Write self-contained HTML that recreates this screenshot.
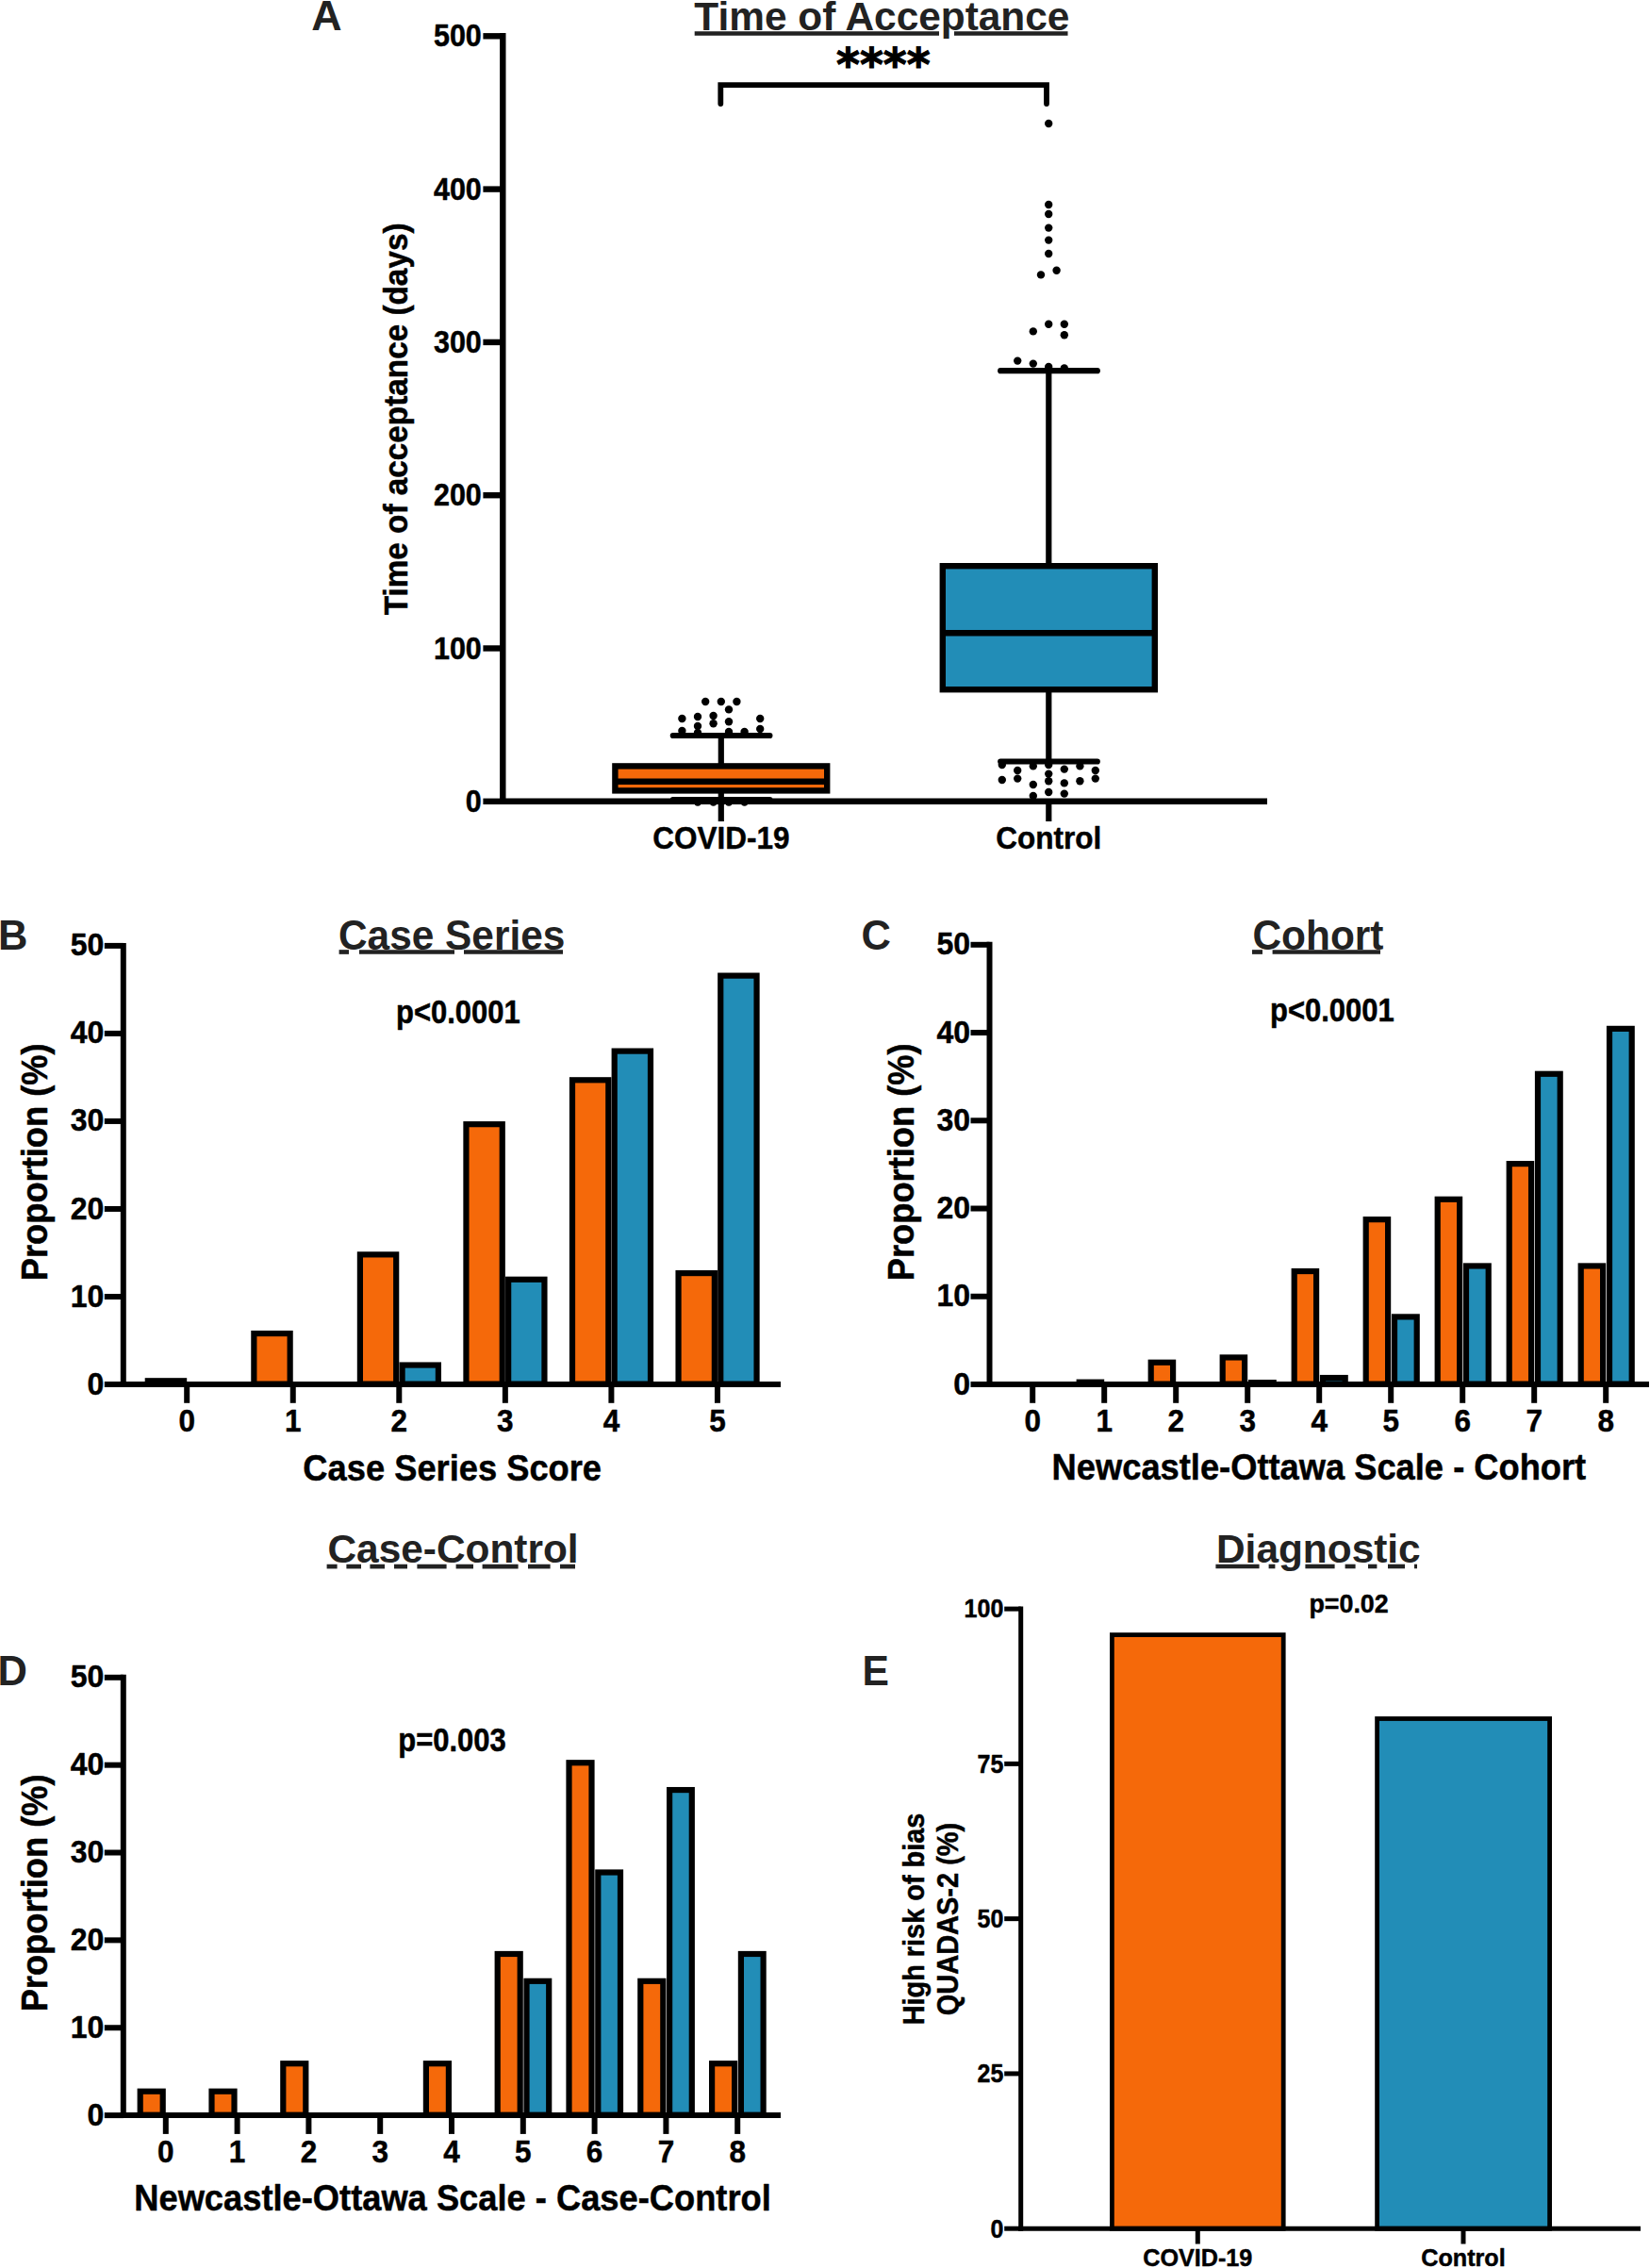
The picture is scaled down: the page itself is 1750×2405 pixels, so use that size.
<!DOCTYPE html>
<html lang="en">
<head>
<meta charset="utf-8">
<title>Figure</title>
<style>
html,body{margin:0;padding:0;background:#fff;}
body{width:1750px;height:2405px;overflow:hidden;}
svg{display:block;}
svg text{font-family:"Liberation Sans",Arial,Helvetica,sans-serif;font-weight:bold;}
</style>
</head>
<body>
<svg width="1750" height="2405" viewBox="0 0 1750 2405">
<rect x="0" y="0" width="1750" height="2405" fill="#ffffff"/>
<g id="panelA">
<text transform="translate(330.3,32.3) scale(1,1.0)" font-size="44.8" text-anchor="start" fill="#222222" >A</text>
<line x1="736.7" y1="35.5" x2="996" y2="35.5" stroke="#222222" stroke-width="4.3" stroke-linecap="butt"/>
<line x1="1012" y1="35.5" x2="1132.5" y2="35.5" stroke="#222222" stroke-width="4.3" stroke-linecap="butt"/>
<text transform="translate(736.3,32.3) scale(1,1.02)" font-size="42.4" text-anchor="start" fill="#222222" >Time of Acceptance</text>
<text x="936.8" y="85" font-size="47.6" text-anchor="middle" style="font-family:'DejaVu Sans',sans-serif" stroke="#000" stroke-width="1.1">****</text>
<path d="M764.3 110 V90.1 H1110 V110" fill="none" stroke="#000" stroke-width="5.8" stroke-linecap="round" stroke-linejoin="miter"/>
<line x1="1112.3" y1="393.2" x2="1112.3" y2="807.5" stroke="#000" stroke-width="6.2" stroke-linecap="butt"/>
<line x1="1061.2" y1="393.2" x2="1163.8" y2="393.2" stroke="#000" stroke-width="6.2" stroke-linecap="round"/>
<line x1="1061.2" y1="807.5" x2="1163.8" y2="807.5" stroke="#000" stroke-width="6.2" stroke-linecap="round"/>
<rect x="999.80" y="600.20" width="225.00" height="131.00" fill="#228db7" stroke="#000" stroke-width="6.4"/>
<line x1="999.8" y1="671.2" x2="1224.8" y2="671.2" stroke="#000" stroke-width="6.4" stroke-linecap="butt"/>
<line x1="764.8" y1="780" x2="764.8" y2="848" stroke="#000" stroke-width="6.2" stroke-linecap="butt"/>
<line x1="713.8" y1="780" x2="816.4" y2="780" stroke="#000" stroke-width="6.2" stroke-linecap="round"/>
<line x1="713.8" y1="848" x2="816.4" y2="848" stroke="#000" stroke-width="6.2" stroke-linecap="round"/>
<rect x="652.40" y="812.40" width="224.80" height="26.00" fill="#f5690a" stroke="#000" stroke-width="6.4"/>
<line x1="652.4" y1="828.8" x2="877.2" y2="828.8" stroke="#000" stroke-width="6.4" stroke-linecap="butt"/>
<circle cx="1112.2" cy="131" r="4.2"/>
<circle cx="1112.2" cy="217" r="4.2"/>
<circle cx="1112.2" cy="227" r="4.2"/>
<circle cx="1112.2" cy="241.6" r="4.2"/>
<circle cx="1112.2" cy="254.6" r="4.2"/>
<circle cx="1112.2" cy="269" r="4.2"/>
<circle cx="1120.6" cy="286.8" r="4.2"/>
<circle cx="1104" cy="291.4" r="4.2"/>
<circle cx="1112.2" cy="343.8" r="4.2"/>
<circle cx="1128.8" cy="343.8" r="4.2"/>
<circle cx="1095.8" cy="351.4" r="4.2"/>
<circle cx="1128.8" cy="355.2" r="4.2"/>
<circle cx="1079.2" cy="382.6" r="4.2"/>
<circle cx="1095.8" cy="385.6" r="4.2"/>
<circle cx="1112.2" cy="389" r="4.2"/>
<circle cx="1128.8" cy="390.4" r="4.2"/>
<circle cx="1062.8" cy="811" r="4.2"/>
<circle cx="1095.8" cy="812.4" r="4.2"/>
<circle cx="1112.2" cy="811" r="4.2"/>
<circle cx="1145.4" cy="812.4" r="4.2"/>
<circle cx="1079.2" cy="817" r="4.2"/>
<circle cx="1128.8" cy="815.6" r="4.2"/>
<circle cx="1161.8" cy="817" r="4.2"/>
<circle cx="1112.2" cy="820.6" r="4.2"/>
<circle cx="1062.8" cy="827" r="4.2"/>
<circle cx="1079.2" cy="825.6" r="4.2"/>
<circle cx="1161.8" cy="825.6" r="4.2"/>
<circle cx="1112.2" cy="828.2" r="4.2"/>
<circle cx="1145.4" cy="828.2" r="4.2"/>
<circle cx="1095.8" cy="832" r="4.2"/>
<circle cx="1128.8" cy="830.4" r="4.2"/>
<circle cx="1112.2" cy="840" r="4.2"/>
<circle cx="1128.8" cy="841.6" r="4.2"/>
<circle cx="1095.8" cy="844" r="4.2"/>
<circle cx="748.2" cy="744" r="4.2"/>
<circle cx="764.8" cy="744" r="4.2"/>
<circle cx="781.4" cy="744" r="4.2"/>
<circle cx="773" cy="752.4" r="4.2"/>
<circle cx="756.6" cy="759" r="4.2"/>
<circle cx="740" cy="760" r="4.2"/>
<circle cx="723.4" cy="762" r="4.2"/>
<circle cx="806.2" cy="762" r="4.2"/>
<circle cx="773" cy="765.2" r="4.2"/>
<circle cx="756.6" cy="767.2" r="4.2"/>
<circle cx="740" cy="770" r="4.2"/>
<circle cx="806.2" cy="773" r="4.2"/>
<circle cx="723.4" cy="775" r="4.2"/>
<circle cx="773" cy="776" r="4.2"/>
<circle cx="789.6" cy="776" r="4.2"/>
<circle cx="740" cy="777" r="4.2"/>
<circle cx="740" cy="850.5" r="4.2"/>
<circle cx="756.6" cy="850.5" r="4.2"/>
<circle cx="773" cy="850.5" r="4.2"/>
<circle cx="789.6" cy="850.5" r="4.2"/>
<line x1="533.3" y1="35" x2="533.3" y2="853" stroke="#000" stroke-width="6.4" stroke-linecap="butt"/>
<line x1="530.1" y1="849.8" x2="1344" y2="849.8" stroke="#000" stroke-width="6.4" stroke-linecap="butt"/>
<line x1="512.4" y1="849.8" x2="533.3" y2="849.8" stroke="#000" stroke-width="6.4" stroke-linecap="butt"/>
<text transform="translate(510.8,860.9) scale(1,1.085)" font-size="30.5" text-anchor="end" fill="#000" stroke="#000" stroke-width="0.45" stroke-linejoin="round" >0</text>
<line x1="512.4" y1="687.5" x2="533.3" y2="687.5" stroke="#000" stroke-width="6.4" stroke-linecap="butt"/>
<text transform="translate(510.8,698.6) scale(1,1.085)" font-size="30.5" text-anchor="end" fill="#000" stroke="#000" stroke-width="0.45" stroke-linejoin="round" >100</text>
<line x1="512.4" y1="525.1999999999999" x2="533.3" y2="525.1999999999999" stroke="#000" stroke-width="6.4" stroke-linecap="butt"/>
<text transform="translate(510.8,536.3) scale(1,1.085)" font-size="30.5" text-anchor="end" fill="#000" stroke="#000" stroke-width="0.45" stroke-linejoin="round" >200</text>
<line x1="512.4" y1="362.9" x2="533.3" y2="362.9" stroke="#000" stroke-width="6.4" stroke-linecap="butt"/>
<text transform="translate(510.8,374.0) scale(1,1.085)" font-size="30.5" text-anchor="end" fill="#000" stroke="#000" stroke-width="0.45" stroke-linejoin="round" >300</text>
<line x1="512.4" y1="200.5999999999999" x2="533.3" y2="200.5999999999999" stroke="#000" stroke-width="6.4" stroke-linecap="butt"/>
<text transform="translate(510.8,211.7) scale(1,1.085)" font-size="30.5" text-anchor="end" fill="#000" stroke="#000" stroke-width="0.45" stroke-linejoin="round" >400</text>
<line x1="512.4" y1="38.299999999999955" x2="533.3" y2="38.299999999999955" stroke="#000" stroke-width="6.4" stroke-linecap="butt"/>
<text transform="translate(510.8,49.4) scale(1,1.085)" font-size="30.5" text-anchor="end" fill="#000" stroke="#000" stroke-width="0.45" stroke-linejoin="round" >500</text>
<line x1="764.8" y1="849.8" x2="764.8" y2="871" stroke="#000" stroke-width="6.2" stroke-linecap="butt"/>
<text transform="translate(764.8,900.2) scale(1,1.035)" font-size="31.5" text-anchor="middle" fill="#000" stroke="#000" stroke-width="0.45" stroke-linejoin="round" >COVID-19</text>
<line x1="1112.3" y1="849.8" x2="1112.3" y2="871" stroke="#000" stroke-width="6.2" stroke-linecap="butt"/>
<text transform="translate(1112.3,900.2) scale(1,1.035)" font-size="31.5" text-anchor="middle" fill="#000" stroke="#000" stroke-width="0.45" stroke-linejoin="round" >Control</text>
<text transform="translate(432.0,444.4) rotate(-90) scale(1.0,1.045)" font-size="33.32" text-anchor="middle" fill="#000" stroke="#000" stroke-width="0.45" stroke-linejoin="round">Time of acceptance (days)</text>
</g>
<g id="panelB">
<text transform="translate(-2.0,1006.6) scale(1,1.0)" font-size="43.5" text-anchor="start" fill="#222222" >B</text>
<line x1="359.6" y1="1009.5" x2="370" y2="1009.5" stroke="#222222" stroke-width="4.7" stroke-linecap="butt"/>
<line x1="381" y1="1009.5" x2="482" y2="1009.5" stroke="#222222" stroke-width="4.7" stroke-linecap="butt"/>
<line x1="492" y1="1009.5" x2="597" y2="1009.5" stroke="#222222" stroke-width="4.7" stroke-linecap="butt"/>
<text transform="translate(359.0,1006.8) scale(1,1.065)" font-size="42.4" text-anchor="start" fill="#222222" >Case Series</text>
<text transform="translate(420.0,1084.6) scale(1,1.11)" font-size="31.0" text-anchor="start" fill="#000" stroke="#000" stroke-width="0.45" stroke-linejoin="round" >p&lt;0.0001</text>
<rect x="156.80" y="1464.28" width="38.30" height="3.32" fill="#f5690a" stroke="#000" stroke-width="6.2"/>
<rect x="269.35" y="1414.06" width="38.30" height="53.54" fill="#f5690a" stroke="#000" stroke-width="6.2"/>
<rect x="381.90" y="1330.36" width="38.30" height="137.24" fill="#f5690a" stroke="#000" stroke-width="6.2"/>
<rect x="426.60" y="1447.54" width="38.30" height="20.06" fill="#228db7" stroke="#000" stroke-width="6.2"/>
<rect x="494.45" y="1192.16" width="38.30" height="275.44" fill="#f5690a" stroke="#000" stroke-width="6.2"/>
<rect x="539.15" y="1356.77" width="38.30" height="110.83" fill="#228db7" stroke="#000" stroke-width="6.2"/>
<rect x="607.00" y="1145.29" width="38.30" height="322.31" fill="#f5690a" stroke="#000" stroke-width="6.2"/>
<rect x="651.70" y="1114.60" width="38.30" height="353.00" fill="#228db7" stroke="#000" stroke-width="6.2"/>
<rect x="719.55" y="1350.08" width="38.30" height="117.52" fill="#f5690a" stroke="#000" stroke-width="6.2"/>
<rect x="764.25" y="1034.62" width="38.30" height="432.98" fill="#228db7" stroke="#000" stroke-width="6.2"/>
<line x1="130.8" y1="999.9" x2="130.8" y2="1471.0" stroke="#000" stroke-width="6.0" stroke-linecap="butt"/>
<line x1="127.80000000000001" y1="1468.0" x2="828" y2="1468.0" stroke="#000" stroke-width="6.0" stroke-linecap="butt"/>
<line x1="110.80000000000001" y1="1468.0" x2="130.8" y2="1468.0" stroke="#000" stroke-width="6.0" stroke-linecap="butt"/>
<text transform="translate(110.4,1478.5) scale(1,1.05)" font-size="32" text-anchor="end" fill="#000" stroke="#000" stroke-width="0.45" stroke-linejoin="round" >0</text>
<line x1="110.80000000000001" y1="1374.98" x2="130.8" y2="1374.98" stroke="#000" stroke-width="6.0" stroke-linecap="butt"/>
<text transform="translate(110.4,1385.5) scale(1,1.05)" font-size="32" text-anchor="end" fill="#000" stroke="#000" stroke-width="0.45" stroke-linejoin="round" >10</text>
<line x1="110.80000000000001" y1="1281.96" x2="130.8" y2="1281.96" stroke="#000" stroke-width="6.0" stroke-linecap="butt"/>
<text transform="translate(110.4,1292.5) scale(1,1.05)" font-size="32" text-anchor="end" fill="#000" stroke="#000" stroke-width="0.45" stroke-linejoin="round" >20</text>
<line x1="110.80000000000001" y1="1188.94" x2="130.8" y2="1188.94" stroke="#000" stroke-width="6.0" stroke-linecap="butt"/>
<text transform="translate(110.4,1199.4) scale(1,1.05)" font-size="32" text-anchor="end" fill="#000" stroke="#000" stroke-width="0.45" stroke-linejoin="round" >30</text>
<line x1="110.80000000000001" y1="1095.92" x2="130.8" y2="1095.92" stroke="#000" stroke-width="6.0" stroke-linecap="butt"/>
<text transform="translate(110.4,1106.4) scale(1,1.05)" font-size="32" text-anchor="end" fill="#000" stroke="#000" stroke-width="0.45" stroke-linejoin="round" >40</text>
<line x1="110.80000000000001" y1="1002.9000000000001" x2="130.8" y2="1002.9000000000001" stroke="#000" stroke-width="6.0" stroke-linecap="butt"/>
<text transform="translate(110.4,1013.4) scale(1,1.05)" font-size="32" text-anchor="end" fill="#000" stroke="#000" stroke-width="0.45" stroke-linejoin="round" >50</text>
<line x1="198.2" y1="1468.0" x2="198.2" y2="1487.8" stroke="#000" stroke-width="6.0" stroke-linecap="butt"/>
<text transform="translate(198.2,1517.7) scale(1,1.075)" font-size="31.5" text-anchor="middle" fill="#000" stroke="#000" stroke-width="0.45" stroke-linejoin="round" >0</text>
<line x1="310.75" y1="1468.0" x2="310.75" y2="1487.8" stroke="#000" stroke-width="6.0" stroke-linecap="butt"/>
<text transform="translate(310.75,1517.7) scale(1,1.075)" font-size="31.5" text-anchor="middle" fill="#000" stroke="#000" stroke-width="0.45" stroke-linejoin="round" >1</text>
<line x1="423.29999999999995" y1="1468.0" x2="423.29999999999995" y2="1487.8" stroke="#000" stroke-width="6.0" stroke-linecap="butt"/>
<text transform="translate(423.29999999999995,1517.7) scale(1,1.075)" font-size="31.5" text-anchor="middle" fill="#000" stroke="#000" stroke-width="0.45" stroke-linejoin="round" >2</text>
<line x1="535.8499999999999" y1="1468.0" x2="535.8499999999999" y2="1487.8" stroke="#000" stroke-width="6.0" stroke-linecap="butt"/>
<text transform="translate(535.8499999999999,1517.7) scale(1,1.075)" font-size="31.5" text-anchor="middle" fill="#000" stroke="#000" stroke-width="0.45" stroke-linejoin="round" >3</text>
<line x1="648.4" y1="1468.0" x2="648.4" y2="1487.8" stroke="#000" stroke-width="6.0" stroke-linecap="butt"/>
<text transform="translate(648.4,1517.7) scale(1,1.075)" font-size="31.5" text-anchor="middle" fill="#000" stroke="#000" stroke-width="0.45" stroke-linejoin="round" >4</text>
<line x1="760.95" y1="1468.0" x2="760.95" y2="1487.8" stroke="#000" stroke-width="6.0" stroke-linecap="butt"/>
<text transform="translate(760.95,1517.7) scale(1,1.075)" font-size="31.5" text-anchor="middle" fill="#000" stroke="#000" stroke-width="0.45" stroke-linejoin="round" >5</text>
<text transform="translate(479.7,1570.0) scale(1,1.09)" font-size="36.3" text-anchor="middle" fill="#000" stroke="#000" stroke-width="0.45" stroke-linejoin="round" >Case Series Score</text>
<text transform="translate(49.699999999999996,1232.3) rotate(-90) scale(1.0,1.07)" font-size="36.3" text-anchor="middle" fill="#000" stroke="#000" stroke-width="0.45" stroke-linejoin="round">Proportion (%)</text>
</g>
<g id="panelC">
<text transform="translate(913.5,1007.2) scale(1,1.04)" font-size="43.5" text-anchor="start" fill="#222222" >C</text>
<line x1="1328" y1="1009.5" x2="1339" y2="1009.5" stroke="#222222" stroke-width="4.7" stroke-linecap="butt"/>
<line x1="1349.6" y1="1009.5" x2="1464" y2="1009.5" stroke="#222222" stroke-width="4.7" stroke-linecap="butt"/>
<text transform="translate(1328.5,1006.8) scale(1,1.065)" font-size="42.4" text-anchor="start" fill="#222222" >Cohort</text>
<text transform="translate(1347.0,1082.8999999999999) scale(1,1.11)" font-size="31.0" text-anchor="start" fill="#000" stroke="#000" stroke-width="0.45" stroke-linejoin="round" >p&lt;0.0001</text>
<rect x="1144.70" y="1465.67" width="23.40" height="1.93" fill="#f5690a" stroke="#000" stroke-width="6.2"/>
<rect x="1220.70" y="1444.75" width="23.40" height="22.85" fill="#f5690a" stroke="#000" stroke-width="6.2"/>
<rect x="1296.70" y="1439.45" width="23.40" height="28.15" fill="#f5690a" stroke="#000" stroke-width="6.2"/>
<rect x="1327.00" y="1466.14" width="23.70" height="1.46" fill="#228db7" stroke="#000" stroke-width="6.2"/>
<rect x="1372.70" y="1348.03" width="23.40" height="119.57" fill="#f5690a" stroke="#000" stroke-width="6.2"/>
<rect x="1403.00" y="1461.03" width="23.70" height="6.58" fill="#228db7" stroke="#000" stroke-width="6.2"/>
<rect x="1448.70" y="1293.16" width="23.40" height="174.44" fill="#f5690a" stroke="#000" stroke-width="6.2"/>
<rect x="1479.00" y="1396.39" width="23.70" height="71.21" fill="#228db7" stroke="#000" stroke-width="6.2"/>
<rect x="1524.70" y="1271.77" width="23.40" height="195.83" fill="#f5690a" stroke="#000" stroke-width="6.2"/>
<rect x="1555.00" y="1342.45" width="23.70" height="125.15" fill="#228db7" stroke="#000" stroke-width="6.2"/>
<rect x="1600.70" y="1234.11" width="23.40" height="233.50" fill="#f5690a" stroke="#000" stroke-width="6.2"/>
<rect x="1631.00" y="1138.78" width="23.70" height="328.82" fill="#228db7" stroke="#000" stroke-width="6.2"/>
<rect x="1676.70" y="1342.45" width="23.40" height="125.15" fill="#f5690a" stroke="#000" stroke-width="6.2"/>
<rect x="1707.00" y="1090.88" width="23.70" height="376.72" fill="#228db7" stroke="#000" stroke-width="6.2"/>
<line x1="1049.5" y1="998.8" x2="1049.5" y2="1471.0" stroke="#000" stroke-width="6.0" stroke-linecap="butt"/>
<line x1="1046.5" y1="1468.0" x2="1749.0" y2="1468.0" stroke="#000" stroke-width="6.0" stroke-linecap="butt"/>
<line x1="1029.5" y1="1468.0" x2="1049.5" y2="1468.0" stroke="#000" stroke-width="6.0" stroke-linecap="butt"/>
<text transform="translate(1029.1,1478.5) scale(1,1.05)" font-size="32" text-anchor="end" fill="#000" stroke="#000" stroke-width="0.45" stroke-linejoin="round" >0</text>
<line x1="1029.5" y1="1374.76" x2="1049.5" y2="1374.76" stroke="#000" stroke-width="6.0" stroke-linecap="butt"/>
<text transform="translate(1029.1,1385.3) scale(1,1.05)" font-size="32" text-anchor="end" fill="#000" stroke="#000" stroke-width="0.45" stroke-linejoin="round" >10</text>
<line x1="1029.5" y1="1281.52" x2="1049.5" y2="1281.52" stroke="#000" stroke-width="6.0" stroke-linecap="butt"/>
<text transform="translate(1029.1,1292.0) scale(1,1.05)" font-size="32" text-anchor="end" fill="#000" stroke="#000" stroke-width="0.45" stroke-linejoin="round" >20</text>
<line x1="1029.5" y1="1188.28" x2="1049.5" y2="1188.28" stroke="#000" stroke-width="6.0" stroke-linecap="butt"/>
<text transform="translate(1029.1,1198.8) scale(1,1.05)" font-size="32" text-anchor="end" fill="#000" stroke="#000" stroke-width="0.45" stroke-linejoin="round" >30</text>
<line x1="1029.5" y1="1095.04" x2="1049.5" y2="1095.04" stroke="#000" stroke-width="6.0" stroke-linecap="butt"/>
<text transform="translate(1029.1,1105.5) scale(1,1.05)" font-size="32" text-anchor="end" fill="#000" stroke="#000" stroke-width="0.45" stroke-linejoin="round" >40</text>
<line x1="1029.5" y1="1001.8" x2="1049.5" y2="1001.8" stroke="#000" stroke-width="6.0" stroke-linecap="butt"/>
<text transform="translate(1029.1,1012.3) scale(1,1.05)" font-size="32" text-anchor="end" fill="#000" stroke="#000" stroke-width="0.45" stroke-linejoin="round" >50</text>
<line x1="1095.2" y1="1468.0" x2="1095.2" y2="1487.8" stroke="#000" stroke-width="6.0" stroke-linecap="butt"/>
<text transform="translate(1095.2,1517.7) scale(1,1.075)" font-size="31.5" text-anchor="middle" fill="#000" stroke="#000" stroke-width="0.45" stroke-linejoin="round" >0</text>
<line x1="1171.2" y1="1468.0" x2="1171.2" y2="1487.8" stroke="#000" stroke-width="6.0" stroke-linecap="butt"/>
<text transform="translate(1171.2,1517.7) scale(1,1.075)" font-size="31.5" text-anchor="middle" fill="#000" stroke="#000" stroke-width="0.45" stroke-linejoin="round" >1</text>
<line x1="1247.2" y1="1468.0" x2="1247.2" y2="1487.8" stroke="#000" stroke-width="6.0" stroke-linecap="butt"/>
<text transform="translate(1247.2,1517.7) scale(1,1.075)" font-size="31.5" text-anchor="middle" fill="#000" stroke="#000" stroke-width="0.45" stroke-linejoin="round" >2</text>
<line x1="1323.2" y1="1468.0" x2="1323.2" y2="1487.8" stroke="#000" stroke-width="6.0" stroke-linecap="butt"/>
<text transform="translate(1323.2,1517.7) scale(1,1.075)" font-size="31.5" text-anchor="middle" fill="#000" stroke="#000" stroke-width="0.45" stroke-linejoin="round" >3</text>
<line x1="1399.2" y1="1468.0" x2="1399.2" y2="1487.8" stroke="#000" stroke-width="6.0" stroke-linecap="butt"/>
<text transform="translate(1399.2,1517.7) scale(1,1.075)" font-size="31.5" text-anchor="middle" fill="#000" stroke="#000" stroke-width="0.45" stroke-linejoin="round" >4</text>
<line x1="1475.2" y1="1468.0" x2="1475.2" y2="1487.8" stroke="#000" stroke-width="6.0" stroke-linecap="butt"/>
<text transform="translate(1475.2,1517.7) scale(1,1.075)" font-size="31.5" text-anchor="middle" fill="#000" stroke="#000" stroke-width="0.45" stroke-linejoin="round" >5</text>
<line x1="1551.2" y1="1468.0" x2="1551.2" y2="1487.8" stroke="#000" stroke-width="6.0" stroke-linecap="butt"/>
<text transform="translate(1551.2,1517.7) scale(1,1.075)" font-size="31.5" text-anchor="middle" fill="#000" stroke="#000" stroke-width="0.45" stroke-linejoin="round" >6</text>
<line x1="1627.2" y1="1468.0" x2="1627.2" y2="1487.8" stroke="#000" stroke-width="6.0" stroke-linecap="butt"/>
<text transform="translate(1627.2,1517.7) scale(1,1.075)" font-size="31.5" text-anchor="middle" fill="#000" stroke="#000" stroke-width="0.45" stroke-linejoin="round" >7</text>
<line x1="1703.2" y1="1468.0" x2="1703.2" y2="1487.8" stroke="#000" stroke-width="6.0" stroke-linecap="butt"/>
<text transform="translate(1703.2,1517.7) scale(1,1.075)" font-size="31.5" text-anchor="middle" fill="#000" stroke="#000" stroke-width="0.45" stroke-linejoin="round" >8</text>
<text transform="translate(1398.9,1568.9) scale(1,1.09)" font-size="36.3" text-anchor="middle" fill="#000" stroke="#000" stroke-width="0.45" stroke-linejoin="round" >Newcastle-Ottawa Scale - Cohort</text>
<text transform="translate(968.6,1232.3) rotate(-90) scale(1.0,1.07)" font-size="36.3" text-anchor="middle" fill="#000" stroke="#000" stroke-width="0.45" stroke-linejoin="round">Proportion (%)</text>
</g>
<g id="panelD">
<text transform="translate(-2.5,1787.3999999999999) scale(1,1.0)" font-size="43.5" text-anchor="start" fill="#222222" >D</text>
<line x1="346.6" y1="1661.1" x2="357.6" y2="1661.1" stroke="#222222" stroke-width="4.7" stroke-linecap="butt"/>
<line x1="367.4" y1="1661.1" x2="383" y2="1661.1" stroke="#222222" stroke-width="4.7" stroke-linecap="butt"/>
<line x1="392.4" y1="1661.1" x2="408" y2="1661.1" stroke="#222222" stroke-width="4.7" stroke-linecap="butt"/>
<line x1="418" y1="1661.1" x2="432" y2="1661.1" stroke="#222222" stroke-width="4.7" stroke-linecap="butt"/>
<line x1="442.4" y1="1661.1" x2="473.6" y2="1661.1" stroke="#222222" stroke-width="4.7" stroke-linecap="butt"/>
<line x1="483.6" y1="1661.1" x2="502" y2="1661.1" stroke="#222222" stroke-width="4.7" stroke-linecap="butt"/>
<line x1="511.6" y1="1661.1" x2="549.6" y2="1661.1" stroke="#222222" stroke-width="4.7" stroke-linecap="butt"/>
<line x1="560" y1="1661.1" x2="583.6" y2="1661.1" stroke="#222222" stroke-width="4.7" stroke-linecap="butt"/>
<line x1="594" y1="1661.1" x2="610" y2="1661.1" stroke="#222222" stroke-width="4.7" stroke-linecap="butt"/>
<text transform="translate(347.5,1657.0) scale(1,1.0)" font-size="42.4" text-anchor="start" fill="#222222" >Case-Control</text>
<text transform="translate(422.2,1856.6) scale(1,1.11)" font-size="31.0" text-anchor="start" fill="#000" stroke="#000" stroke-width="0.45" stroke-linejoin="round" >p=0.003</text>
<rect x="148.70" y="2217.71" width="24.00" height="24.99" fill="#f5690a" stroke="#000" stroke-width="6.2"/>
<rect x="224.50" y="2217.71" width="24.00" height="24.99" fill="#f5690a" stroke="#000" stroke-width="6.2"/>
<rect x="300.30" y="2188.23" width="24.00" height="54.47" fill="#f5690a" stroke="#000" stroke-width="6.2"/>
<rect x="451.90" y="2188.23" width="24.00" height="54.47" fill="#f5690a" stroke="#000" stroke-width="6.2"/>
<rect x="527.70" y="2071.98" width="24.00" height="170.72" fill="#f5690a" stroke="#000" stroke-width="6.2"/>
<rect x="558.50" y="2100.81" width="23.70" height="141.89" fill="#228db7" stroke="#000" stroke-width="6.2"/>
<rect x="603.50" y="1869.24" width="24.00" height="373.46" fill="#f5690a" stroke="#000" stroke-width="6.2"/>
<rect x="634.30" y="1985.49" width="23.70" height="257.21" fill="#228db7" stroke="#000" stroke-width="6.2"/>
<rect x="679.30" y="2100.81" width="24.00" height="141.89" fill="#f5690a" stroke="#000" stroke-width="6.2"/>
<rect x="710.10" y="1898.07" width="23.70" height="344.63" fill="#228db7" stroke="#000" stroke-width="6.2"/>
<rect x="755.10" y="2188.23" width="24.00" height="54.47" fill="#f5690a" stroke="#000" stroke-width="6.2"/>
<rect x="785.90" y="2071.98" width="23.70" height="170.72" fill="#228db7" stroke="#000" stroke-width="6.2"/>
<line x1="130.8" y1="1775.8" x2="130.8" y2="2246.1" stroke="#000" stroke-width="6.0" stroke-linecap="butt"/>
<line x1="127.80000000000001" y1="2243.1" x2="828" y2="2243.1" stroke="#000" stroke-width="6.0" stroke-linecap="butt"/>
<line x1="110.80000000000001" y1="2243.1" x2="130.8" y2="2243.1" stroke="#000" stroke-width="6.0" stroke-linecap="butt"/>
<text transform="translate(110.4,2253.6) scale(1,1.05)" font-size="32" text-anchor="end" fill="#000" stroke="#000" stroke-width="0.45" stroke-linejoin="round" >0</text>
<line x1="110.80000000000001" y1="2150.24" x2="130.8" y2="2150.24" stroke="#000" stroke-width="6.0" stroke-linecap="butt"/>
<text transform="translate(110.4,2160.7) scale(1,1.05)" font-size="32" text-anchor="end" fill="#000" stroke="#000" stroke-width="0.45" stroke-linejoin="round" >10</text>
<line x1="110.80000000000001" y1="2057.38" x2="130.8" y2="2057.38" stroke="#000" stroke-width="6.0" stroke-linecap="butt"/>
<text transform="translate(110.4,2067.9) scale(1,1.05)" font-size="32" text-anchor="end" fill="#000" stroke="#000" stroke-width="0.45" stroke-linejoin="round" >20</text>
<line x1="110.80000000000001" y1="1964.52" x2="130.8" y2="1964.52" stroke="#000" stroke-width="6.0" stroke-linecap="butt"/>
<text transform="translate(110.4,1975.0) scale(1,1.05)" font-size="32" text-anchor="end" fill="#000" stroke="#000" stroke-width="0.45" stroke-linejoin="round" >30</text>
<line x1="110.80000000000001" y1="1871.6599999999999" x2="130.8" y2="1871.6599999999999" stroke="#000" stroke-width="6.0" stroke-linecap="butt"/>
<text transform="translate(110.4,1882.2) scale(1,1.05)" font-size="32" text-anchor="end" fill="#000" stroke="#000" stroke-width="0.45" stroke-linejoin="round" >40</text>
<line x1="110.80000000000001" y1="1778.8" x2="130.8" y2="1778.8" stroke="#000" stroke-width="6.0" stroke-linecap="butt"/>
<text transform="translate(110.4,1789.3) scale(1,1.05)" font-size="32" text-anchor="end" fill="#000" stroke="#000" stroke-width="0.45" stroke-linejoin="round" >50</text>
<line x1="175.8" y1="2243.1" x2="175.8" y2="2262.9" stroke="#000" stroke-width="6.0" stroke-linecap="butt"/>
<text transform="translate(175.8,2292.7999999999997) scale(1,1.075)" font-size="31.5" text-anchor="middle" fill="#000" stroke="#000" stroke-width="0.45" stroke-linejoin="round" >0</text>
<line x1="251.60000000000002" y1="2243.1" x2="251.60000000000002" y2="2262.9" stroke="#000" stroke-width="6.0" stroke-linecap="butt"/>
<text transform="translate(251.60000000000002,2292.7999999999997) scale(1,1.075)" font-size="31.5" text-anchor="middle" fill="#000" stroke="#000" stroke-width="0.45" stroke-linejoin="round" >1</text>
<line x1="327.4" y1="2243.1" x2="327.4" y2="2262.9" stroke="#000" stroke-width="6.0" stroke-linecap="butt"/>
<text transform="translate(327.4,2292.7999999999997) scale(1,1.075)" font-size="31.5" text-anchor="middle" fill="#000" stroke="#000" stroke-width="0.45" stroke-linejoin="round" >2</text>
<line x1="403.2" y1="2243.1" x2="403.2" y2="2262.9" stroke="#000" stroke-width="6.0" stroke-linecap="butt"/>
<text transform="translate(403.2,2292.7999999999997) scale(1,1.075)" font-size="31.5" text-anchor="middle" fill="#000" stroke="#000" stroke-width="0.45" stroke-linejoin="round" >3</text>
<line x1="479.0" y1="2243.1" x2="479.0" y2="2262.9" stroke="#000" stroke-width="6.0" stroke-linecap="butt"/>
<text transform="translate(479.0,2292.7999999999997) scale(1,1.075)" font-size="31.5" text-anchor="middle" fill="#000" stroke="#000" stroke-width="0.45" stroke-linejoin="round" >4</text>
<line x1="554.8" y1="2243.1" x2="554.8" y2="2262.9" stroke="#000" stroke-width="6.0" stroke-linecap="butt"/>
<text transform="translate(554.8,2292.7999999999997) scale(1,1.075)" font-size="31.5" text-anchor="middle" fill="#000" stroke="#000" stroke-width="0.45" stroke-linejoin="round" >5</text>
<line x1="630.5999999999999" y1="2243.1" x2="630.5999999999999" y2="2262.9" stroke="#000" stroke-width="6.0" stroke-linecap="butt"/>
<text transform="translate(630.5999999999999,2292.7999999999997) scale(1,1.075)" font-size="31.5" text-anchor="middle" fill="#000" stroke="#000" stroke-width="0.45" stroke-linejoin="round" >6</text>
<line x1="706.4000000000001" y1="2243.1" x2="706.4000000000001" y2="2262.9" stroke="#000" stroke-width="6.0" stroke-linecap="butt"/>
<text transform="translate(706.4000000000001,2292.7999999999997) scale(1,1.075)" font-size="31.5" text-anchor="middle" fill="#000" stroke="#000" stroke-width="0.45" stroke-linejoin="round" >7</text>
<line x1="782.2" y1="2243.1" x2="782.2" y2="2262.9" stroke="#000" stroke-width="6.0" stroke-linecap="butt"/>
<text transform="translate(782.2,2292.7999999999997) scale(1,1.075)" font-size="31.5" text-anchor="middle" fill="#000" stroke="#000" stroke-width="0.45" stroke-linejoin="round" >8</text>
<text transform="translate(480,2344.0) scale(1,1.09)" font-size="36.3" text-anchor="middle" fill="#000" stroke="#000" stroke-width="0.45" stroke-linejoin="round" >Newcastle-Ottawa Scale - Case-Control</text>
<text transform="translate(49.699999999999996,2007.3999999999999) rotate(-90) scale(1.0,1.07)" font-size="36.3" text-anchor="middle" fill="#000" stroke="#000" stroke-width="0.45" stroke-linejoin="round">Proportion (%)</text>
</g>
<g id="panelE">
<text transform="translate(914.5,1787.2) scale(1,1.02)" font-size="42.6" text-anchor="start" fill="#222222" >E</text>
<line x1="1289.4" y1="1661" x2="1335.6" y2="1661" stroke="#222222" stroke-width="4.6" stroke-linecap="butt"/>
<line x1="1345.6" y1="1661" x2="1352.4" y2="1661" stroke="#222222" stroke-width="4.6" stroke-linecap="butt"/>
<line x1="1384.4" y1="1661" x2="1415.6" y2="1661" stroke="#222222" stroke-width="4.6" stroke-linecap="butt"/>
<line x1="1426.6" y1="1661" x2="1437.6" y2="1661" stroke="#222222" stroke-width="4.6" stroke-linecap="butt"/>
<line x1="1451" y1="1661" x2="1460.4" y2="1661" stroke="#222222" stroke-width="4.6" stroke-linecap="butt"/>
<line x1="1472" y1="1661" x2="1490" y2="1661" stroke="#222222" stroke-width="4.6" stroke-linecap="butt"/>
<line x1="1500" y1="1661" x2="1503" y2="1661" stroke="#222222" stroke-width="4.6" stroke-linecap="butt"/>
<text transform="translate(1290.0,1657) scale(1,1.0)" font-size="42.4" text-anchor="start" fill="#222222" >Diagnostic</text>
<text transform="translate(1388.5,1710) scale(1,1.035)" font-size="26.8" text-anchor="start" fill="#000" stroke="#000" stroke-width="0.45" stroke-linejoin="round" >p=0.02</text>
<rect x="1179.40" y="1733.60" width="181.80" height="629.60" fill="#f5690a" stroke="#000" stroke-width="4.8"/>
<rect x="1460.60" y="1822.50" width="183.00" height="540.70" fill="#228db7" stroke="#000" stroke-width="4.8"/>
<line x1="1082.7" y1="1703.6" x2="1082.7" y2="2365.7" stroke="#000" stroke-width="5" stroke-linecap="butt"/>
<line x1="1080.4" y1="2363.2" x2="1740" y2="2363.2" stroke="#000" stroke-width="5" stroke-linecap="butt"/>
<line x1="1065.2" y1="2363.2" x2="1082.7" y2="2363.2" stroke="#000" stroke-width="5.0" stroke-linecap="butt"/>
<text transform="translate(1064.3,2372.5) scale(1,1.075)" font-size="25" text-anchor="end" fill="#000" stroke="#000" stroke-width="0.45" stroke-linejoin="round" >0</text>
<line x1="1065.2" y1="2198.9249999999997" x2="1082.7" y2="2198.9249999999997" stroke="#000" stroke-width="5.0" stroke-linecap="butt"/>
<text transform="translate(1064.3,2208.2) scale(1,1.075)" font-size="25" text-anchor="end" fill="#000" stroke="#000" stroke-width="0.45" stroke-linejoin="round" >25</text>
<line x1="1065.2" y1="2034.6499999999999" x2="1082.7" y2="2034.6499999999999" stroke="#000" stroke-width="5.0" stroke-linecap="butt"/>
<text transform="translate(1064.3,2043.9) scale(1,1.075)" font-size="25" text-anchor="end" fill="#000" stroke="#000" stroke-width="0.45" stroke-linejoin="round" >50</text>
<line x1="1065.2" y1="1870.3749999999998" x2="1082.7" y2="1870.3749999999998" stroke="#000" stroke-width="5.0" stroke-linecap="butt"/>
<text transform="translate(1064.3,1879.7) scale(1,1.075)" font-size="25" text-anchor="end" fill="#000" stroke="#000" stroke-width="0.45" stroke-linejoin="round" >75</text>
<line x1="1065.2" y1="1706.1" x2="1082.7" y2="1706.1" stroke="#000" stroke-width="5.0" stroke-linecap="butt"/>
<text transform="translate(1064.3,1715.4) scale(1,1.075)" font-size="25" text-anchor="end" fill="#000" stroke="#000" stroke-width="0.45" stroke-linejoin="round" >100</text>
<line x1="1270.3" y1="2363.2" x2="1270.3" y2="2379.5" stroke="#000" stroke-width="5" stroke-linecap="butt"/>
<text transform="translate(1270.3,2403.3) scale(1,1.035)" font-size="25.2" text-anchor="middle" fill="#000" stroke="#000" stroke-width="0.45" stroke-linejoin="round" >COVID-19</text>
<line x1="1552" y1="2363.2" x2="1552" y2="2379.5" stroke="#000" stroke-width="5" stroke-linecap="butt"/>
<text transform="translate(1552,2403.3) scale(1,1.035)" font-size="25.2" text-anchor="middle" fill="#000" stroke="#000" stroke-width="0.45" stroke-linejoin="round" >Control</text>
<text transform="translate(979.9,2035) rotate(-90) scale(1.0,1.07)" font-size="28.9" text-anchor="middle" fill="#000" stroke="#000" stroke-width="0.45" stroke-linejoin="round">High risk of bias</text>
<text transform="translate(1016.2,2035) rotate(-90) scale(1.0,1.07)" font-size="29.0" text-anchor="middle" fill="#000" stroke="#000" stroke-width="0.45" stroke-linejoin="round">QUADAS-2 (%)</text>
</g>
</svg>
</body>
</html>
